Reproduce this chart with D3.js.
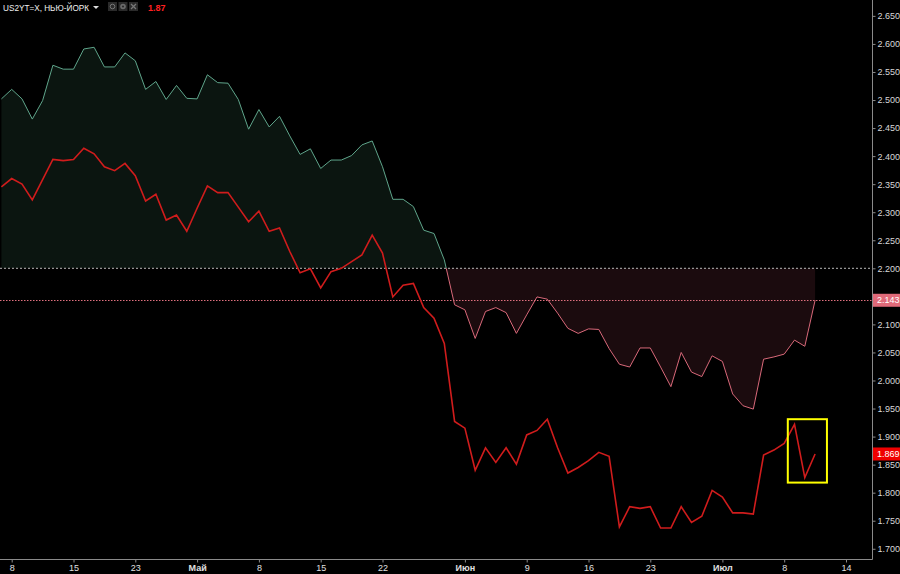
<!DOCTYPE html>
<html>
<head>
<meta charset="utf-8">
<script src="https://cdn.jsdelivr.net/npm/d3@7/dist/d3.min.js"></script>
<style>
  html, body { margin: 0; padding: 0; background: #000; }
  svg { display: block; }
  text { font-family: "Liberation Sans", Arial, sans-serif; }
</style>
</head>
<body>
<svg id="chart" width="900" height="574"></svg>
<script>
// ---------- DATA ----------
const symbolTitle = "US2YT=X, НЬЮ-ЙОРК";
const headerValue = "1.87";

// bar index of each x tick and its label
const tickIdx    = [1, 7, 13, 19, 25, 31, 37, 45, 51, 57, 63, 70, 76, 82];
const tickLabels = ["8", "15", "23", "Май", "8", "15", "22", "Июн", "9", "16", "23", "Июл", "8", "14"];
const monthTicks = ["Май", "Июн", "Июл"];

// y axis ticks (2.150 is hidden behind the 2.143 price tag)
const yTicks = [1.70, 1.75, 1.80, 1.85, 1.90, 1.95, 2.00, 2.05, 2.10, 2.20, 2.25,
                2.30, 2.35, 2.40, 2.45, 2.50, 2.55, 2.60, 2.65];

// main series (thick red line)
const mainSeries = [
  2.345, 2.360, 2.350, 2.322, 2.358, 2.394, 2.392, 2.394, 2.414, 2.404,
  2.381, 2.374, 2.387, 2.365, 2.320, 2.332, 2.286, 2.295, 2.266, 2.307,
  2.347, 2.335, 2.335, 2.309, 2.283, 2.302, 2.266, 2.272, 2.230, 2.192,
  2.199, 2.165, 2.194, 2.200, 2.212, 2.224, 2.259, 2.227, 2.149, 2.170,
  2.173, 2.130, 2.111, 2.066, 1.927, 1.915, 1.840, 1.880, 1.854, 1.880,
  1.851, 1.903, 1.911, 1.931, 1.880, 1.835, 1.845, 1.857, 1.872, 1.865,
  1.739, 1.775, 1.772, 1.775, 1.737, 1.737, 1.775, 1.747, 1.758, 1.804,
  1.792, 1.764, 1.764, 1.762, 1.867, 1.876, 1.888, 1.922, 1.827, 1.869
];

// compared series (thin line with baseline fill)
const compareSeries = [
  2.502, 2.519, 2.502, 2.466, 2.499, 2.562, 2.555, 2.555, 2.591, 2.594,
  2.559, 2.559, 2.584, 2.570, 2.519, 2.533, 2.501, 2.526, 2.503, 2.502,
  2.545, 2.531, 2.530, 2.501, 2.448, 2.483, 2.452, 2.471, 2.436, 2.403,
  2.413, 2.378, 2.393, 2.393, 2.401, 2.420, 2.427, 2.381, 2.323, 2.323,
  2.310, 2.268, 2.262, 2.215, 2.135, 2.126, 2.075, 2.123, 2.130, 2.121,
  2.084, 2.117, 2.149, 2.145, 2.120, 2.093, 2.084, 2.092, 2.091, 2.057,
  2.029, 2.024, 2.058, 2.058, 2.024, 1.989, 2.050, 2.015, 2.007, 2.044,
  2.034, 1.976, 1.955, 1.949, 2.038, 2.042, 2.047, 2.072, 2.061, 2.143
];

const baselineValue = 2.200;
const lastCompare = 2.143;
const lastMain = 1.869;

// highlight box (bar index range, value range)
const boxIdx = [76.35, 80.15];
const boxVal = [1.818, 1.931];

// ---------- LAYOUT ----------
const W = 900, H = 574;
const plotRight = 872, plotBottom = 559.5;

const svg = d3.select("#chart");
svg.append("rect").attr("width", W).attr("height", H).attr("fill", "#000");

const x = d3.scaleLinear().domain([0, 82]).range([1.4, 846]);
const y = d3.scaleLinear().domain([1.680, 2.6783]).range([560, 0]);

const defs = svg.append("defs");
const yb = y(baselineValue);
defs.append("clipPath").attr("id", "above")
  .append("rect").attr("x", 0).attr("y", 0).attr("width", plotRight).attr("height", yb);
defs.append("clipPath").attr("id", "below")
  .append("rect").attr("x", 0).attr("y", yb).attr("width", plotRight).attr("height", plotBottom - yb);

const idx = d3.range(compareSeries.length);
const area = d3.area().x(i => x(i)).y0(yb).y1(i => y(compareSeries[i]));
const lineCmp = d3.line().x(i => x(i)).y(i => y(compareSeries[i]));
const lineMain = d3.line().x(i => x(i)).y(i => y(mainSeries[i]));

// baseline fills
svg.append("path").attr("d", area(idx)).attr("fill", "#0b1510").attr("clip-path", "url(#above)");
svg.append("path").attr("d", area(idx)).attr("fill", "#1b0b0e").attr("clip-path", "url(#below)");

// dotted reference lines
svg.append("line").attr("x1", 0).attr("x2", plotRight).attr("y1", yb).attr("y2", yb)
  .attr("stroke", "#b8b8b8").attr("stroke-width", 1).attr("stroke-dasharray", "2,2");
svg.append("line").attr("x1", 0).attr("x2", plotRight)
  .attr("y1", Math.round(y(lastCompare)) + 0.5).attr("y2", Math.round(y(lastCompare)) + 0.5)
  .attr("stroke", "#e0707f").attr("stroke-width", 1).attr("stroke-dasharray", "1.5,1.5");

// thin compared line, coloured by side of baseline
svg.append("path").attr("d", lineCmp(idx)).attr("fill", "none")
  .attr("stroke", "#5fa58b").attr("stroke-width", 1).attr("clip-path", "url(#above)");
svg.append("path").attr("d", lineCmp(idx)).attr("fill", "none")
  .attr("stroke", "#d9697a").attr("stroke-width", 1).attr("clip-path", "url(#below)");

// main line
svg.append("path").attr("d", lineMain(d3.range(mainSeries.length))).attr("fill", "none")
  .attr("stroke", "#d01c1c").attr("stroke-width", 1.6).attr("stroke-linejoin", "miter");

// highlight box
svg.append("rect")
  .attr("x", x(boxIdx[0])).attr("y", y(boxVal[1]))
  .attr("width", x(boxIdx[1]) - x(boxIdx[0])).attr("height", y(boxVal[0]) - y(boxVal[1]))
  .attr("fill", "none").attr("stroke", "#ffff00").attr("stroke-width", 2);

// ---------- AXES ----------
// right axis
const yAxis = d3.axisRight(y).tickValues(yTicks).tickFormat(d3.format(".3f")).tickSize(3).tickPadding(2);
const gy = svg.append("g").attr("transform", `translate(${plotRight + 0.5},0)`).call(yAxis);
gy.select(".domain").remove();
gy.selectAll(".tick line").attr("stroke", "#8a8a8a");
gy.selectAll(".tick text").attr("fill", "#d8d8d8").attr("font-size", 9);

// bottom axis
const xAxis = d3.axisBottom(x).tickValues(tickIdx)
  .tickFormat((d, i) => tickLabels[i]).tickSize(3).tickPadding(2);
const gx = svg.append("g").attr("transform", `translate(0,${plotBottom})`).call(xAxis);
gx.select(".domain").remove();
gx.selectAll(".tick line").attr("stroke", "#8a8a8a");
gx.selectAll(".tick text").attr("fill", "#e0e0e0").attr("font-size", 9)
  .attr("font-weight", (d, i) => monthTicks.includes(tickLabels[i]) ? "bold" : "normal");

// frame lines
svg.append("line").attr("x1", plotRight + 0.5).attr("x2", plotRight + 0.5).attr("y1", 0).attr("y2", plotBottom)
  .attr("stroke", "#8a8a8a").attr("stroke-width", 1);
svg.append("line").attr("x1", 0).attr("x2", plotRight + 0.5).attr("y1", plotBottom).attr("y2", plotBottom)
  .attr("stroke", "#8a8a8a").attr("stroke-width", 1);

// price labels on the right axis
function priceTag(v, bg) {
  const cy = y(v);
  svg.append("rect").attr("x", plotRight + 1).attr("y", cy - 6.5).attr("width", W - plotRight - 1).attr("height", 13)
    .attr("fill", bg);
  svg.append("text").attr("x", plotRight + 5).attr("y", cy).attr("dy", "0.35em")
    .attr("fill", "#fff").attr("font-size", 9).text(d3.format(".3f")(v));
}
priceTag(lastCompare, "#e06a79");
priceTag(lastMain, "#f00000");

// ---------- HEADER ----------
const hdr = svg.append("g");
hdr.append("text").attr("x", 3).attr("y", 11).attr("fill", "#f0f0f0").attr("font-size", 9)
  .attr("textLength", 86).attr("lengthAdjust", "spacingAndGlyphs")
  .text(symbolTitle);
hdr.append("path").attr("d", "M93,6 L99,6 L96,9 Z").attr("fill", "#ddd");
const iconX = [108, 118.5, 129];
iconX.forEach((ix, k) => {
  hdr.append("rect").attr("x", ix).attr("y", 2).attr("width", 9).attr("height", 9).attr("fill", "#2b2b2b");
  if (k === 0) {
    hdr.append("circle").attr("cx", ix + 4.5).attr("cy", 6.5).attr("r", 2.3).attr("fill", "none").attr("stroke", "#777").attr("stroke-width", 1);
  } else if (k === 1) {
    hdr.append("circle").attr("cx", ix + 4.5).attr("cy", 6.5).attr("r", 2.8).attr("fill", "#6a6a6a");
    hdr.append("circle").attr("cx", ix + 4.5).attr("cy", 6.5).attr("r", 1.1).attr("fill", "#2b2b2b");
  } else {
    hdr.append("path").attr("d", `M${ix + 2},4 L${ix + 7},9 M${ix + 7},4 L${ix + 2},9`)
      .attr("stroke", "#777").attr("stroke-width", 1.3);
  }
});
hdr.append("text").attr("x", 148).attr("y", 11).attr("fill", "#ff2020").attr("font-size", 9).attr("font-weight", "bold")
  .text(headerValue);
</script>
</body>
</html>
